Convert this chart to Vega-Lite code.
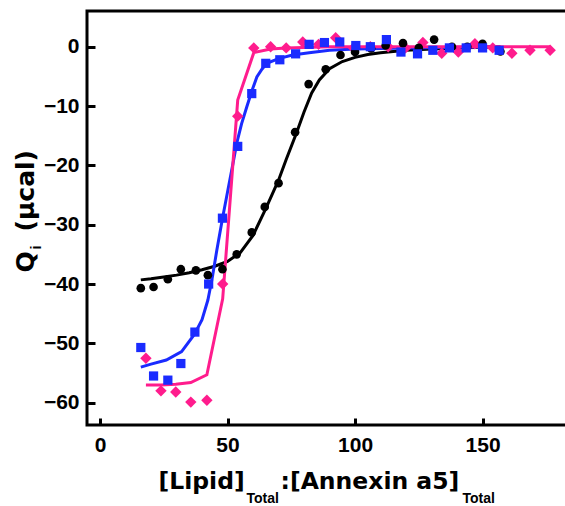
{
  "$schema": "https://vega.github.io/schema/vega-lite/v6.json",
  "width": 481,
  "height": 414,
  "autosize": {"type": "none"},
  "padding": {"left": 87, "top": 11, "right": 0, "bottom": 81},
  "background": "white",
  "config": {
    "view": {"stroke": "black", "strokeWidth": 3},
    "axis": {
      "grid": false,
      "domain": false,
      "labelFont": "Liberation Sans",
      "labelFontWeight": "bold",
      "labelFontSize": 21,
      "labelColor": "black",
      "tickColor": "black",
      "tickWidth": 3,
      "titleColor": "black",
      "titleFont": "DejaVu Sans",
      "titleFontWeight": "bold",
      "titleFontSize": 23.5,
      "titleAlign": "left",
      "titleBaseline": "alphabetic"
    }
  },
  "datasets": {
    "pts": [
      {"x": 16, "q": -40.7, "s": "black"}, {"x": 21, "q": -40.5, "s": "black"}, {"x": 26.6, "q": -39.2, "s": "black"},
      {"x": 31.7, "q": -37.5, "s": "black"}, {"x": 37.6, "q": -37.7, "s": "black"}, {"x": 42.3, "q": -38.5, "s": "black"},
      {"x": 48, "q": -37.5, "s": "black"}, {"x": 53.6, "q": -35, "s": "black"}, {"x": 59.5, "q": -31.3, "s": "black"},
      {"x": 64.6, "q": -27, "s": "black"}, {"x": 70, "q": -23, "s": "black"}, {"x": 76.5, "q": -14.4, "s": "black"},
      {"x": 81.8, "q": -6.3, "s": "black"}, {"x": 88.5, "q": -3.8, "s": "black"}, {"x": 94.3, "q": -1.4, "s": "black"},
      {"x": 100, "q": -0.9, "s": "black"}, {"x": 106.3, "q": -0.3, "s": "black"}, {"x": 112, "q": 0.2, "s": "black"},
      {"x": 118.8, "q": 0.6, "s": "black"}, {"x": 125, "q": -0.2, "s": "black"}, {"x": 131, "q": 1.2, "s": "black"},
      {"x": 138, "q": 0, "s": "black"}, {"x": 144, "q": 0, "s": "black"}, {"x": 150, "q": 0.5, "s": "black"},
      {"x": 157, "q": -0.8, "s": "black"},
      {"x": 16, "q": -50.7, "s": "blue"}, {"x": 21, "q": -55.5, "s": "blue"}, {"x": 26.6, "q": -56.2, "s": "blue"},
      {"x": 31.7, "q": -53.4, "s": "blue"}, {"x": 37.2, "q": -48.1, "s": "blue"}, {"x": 42.6, "q": -40, "s": "blue"},
      {"x": 48, "q": -28.9, "s": "blue"}, {"x": 54, "q": -16.8, "s": "blue"}, {"x": 59.5, "q": -7.9, "s": "blue"},
      {"x": 65, "q": -2.8, "s": "blue"}, {"x": 70.5, "q": -2.2, "s": "blue"}, {"x": 76.7, "q": -1.2, "s": "blue"},
      {"x": 82, "q": 0.4, "s": "blue"}, {"x": 88, "q": 0.7, "s": "blue"}, {"x": 94, "q": 0.8, "s": "blue"},
      {"x": 100.3, "q": 0.2, "s": "blue"}, {"x": 106, "q": 0, "s": "blue"}, {"x": 112.3, "q": 1.2, "s": "blue"},
      {"x": 118, "q": -0.9, "s": "blue"}, {"x": 124.5, "q": -1.2, "s": "blue"}, {"x": 130.5, "q": -0.6, "s": "blue"},
      {"x": 137, "q": -0.2, "s": "blue"}, {"x": 143.6, "q": -0.2, "s": "blue"}, {"x": 150, "q": -0.2, "s": "blue"},
      {"x": 156.5, "q": -0.6, "s": "blue"},
      {"x": 18, "q": -52.5, "s": "pink"}, {"x": 23.9, "q": -58, "s": "pink"}, {"x": 29.7, "q": -58.2, "s": "pink"},
      {"x": 35.6, "q": -59.9, "s": "pink"}, {"x": 41.9, "q": -59.6, "s": "pink"}, {"x": 48.1, "q": -40, "s": "pink"},
      {"x": 54, "q": -11.7, "s": "pink"}, {"x": 60.3, "q": -0.2, "s": "pink"}, {"x": 66.9, "q": 0, "s": "pink"},
      {"x": 73, "q": -0.2, "s": "pink"}, {"x": 79.5, "q": 0.8, "s": "pink"}, {"x": 85.7, "q": 0.4, "s": "pink"},
      {"x": 92.4, "q": 1.5, "s": "pink"}, {"x": 99.4, "q": -0.2, "s": "pink"}, {"x": 106, "q": 0, "s": "pink"},
      {"x": 113, "q": 0, "s": "pink"}, {"x": 119.8, "q": -0.2, "s": "pink"}, {"x": 126.6, "q": 0.7, "s": "pink"},
      {"x": 134, "q": -1.1, "s": "pink"}, {"x": 140.5, "q": -0.9, "s": "pink"}, {"x": 147, "q": 0.5, "s": "pink"},
      {"x": 154, "q": -0.2, "s": "pink"}, {"x": 161.5, "q": -1.1, "s": "pink"}, {"x": 168.6, "q": -0.6, "s": "pink"},
      {"x": 176.5, "q": -0.6, "s": "pink"}
    ],
    "fit": [
      {"x": 16, "q": -39.3, "s": "black"}, {"x": 20, "q": -39.1, "s": "black"}, {"x": 25, "q": -38.8, "s": "black"},
      {"x": 30, "q": -38.5, "s": "black"}, {"x": 35, "q": -38.1, "s": "black"}, {"x": 40, "q": -37.6, "s": "black"},
      {"x": 45, "q": -37.0, "s": "black"}, {"x": 50, "q": -36.2, "s": "black"}, {"x": 55, "q": -34.7, "s": "black"},
      {"x": 60, "q": -31.8, "s": "black"}, {"x": 65, "q": -27.3, "s": "black"}, {"x": 70, "q": -22.5, "s": "black"},
      {"x": 73, "q": -19, "s": "black"}, {"x": 77, "q": -14.6, "s": "black"}, {"x": 80, "q": -11, "s": "black"},
      {"x": 83, "q": -7.8, "s": "black"}, {"x": 86, "q": -5.6, "s": "black"}, {"x": 90, "q": -3.7, "s": "black"},
      {"x": 95, "q": -2.5, "s": "black"}, {"x": 100, "q": -1.8, "s": "black"}, {"x": 105, "q": -1.3, "s": "black"},
      {"x": 110, "q": -1.0, "s": "black"}, {"x": 120, "q": -0.6, "s": "black"}, {"x": 130, "q": -0.4, "s": "black"},
      {"x": 140, "q": -0.2, "s": "black"}, {"x": 157, "q": 0, "s": "black"},
      {"x": 16, "q": -54, "s": "blue"}, {"x": 20, "q": -53.5, "s": "blue"}, {"x": 26, "q": -52.8, "s": "blue"},
      {"x": 32, "q": -51.4, "s": "blue"}, {"x": 37, "q": -48.5, "s": "blue"}, {"x": 40, "q": -46, "s": "blue"},
      {"x": 42.3, "q": -42.7, "s": "blue"}, {"x": 44, "q": -39, "s": "blue"}, {"x": 45.8, "q": -34.3, "s": "blue"},
      {"x": 48, "q": -29, "s": "blue"}, {"x": 50, "q": -24.5, "s": "blue"}, {"x": 52, "q": -20, "s": "blue"},
      {"x": 53.6, "q": -16.3, "s": "blue"}, {"x": 55.5, "q": -13, "s": "blue"}, {"x": 57.5, "q": -10.2, "s": "blue"},
      {"x": 59.5, "q": -7.5, "s": "blue"}, {"x": 61.5, "q": -5.1, "s": "blue"}, {"x": 63.5, "q": -3.8, "s": "blue"},
      {"x": 65.4, "q": -2.8, "s": "blue"}, {"x": 70, "q": -2.0, "s": "blue"}, {"x": 75.5, "q": -1.4, "s": "blue"},
      {"x": 82, "q": -1.0, "s": "blue"}, {"x": 90, "q": -0.6, "s": "blue"}, {"x": 100, "q": -0.4, "s": "blue"},
      {"x": 120, "q": -0.2, "s": "blue"}, {"x": 157, "q": 0, "s": "blue"},
      {"x": 18, "q": -57, "s": "pink"}, {"x": 23.9, "q": -57, "s": "pink"}, {"x": 29.7, "q": -56.9, "s": "pink"},
      {"x": 35.6, "q": -56.6, "s": "pink"}, {"x": 41.9, "q": -55.3, "s": "pink"}, {"x": 48.1, "q": -42.5, "s": "pink"},
      {"x": 54, "q": -9, "s": "pink"}, {"x": 60.3, "q": -1.0, "s": "pink"}, {"x": 66.9, "q": -0.4, "s": "pink"},
      {"x": 73, "q": -0.2, "s": "pink"}, {"x": 90, "q": 0, "s": "pink"}, {"x": 176.5, "q": 0, "s": "pink"}
    ]
  },
  "resolve": {"axis": {"x": "independent", "y": "independent"}},
  "layer": [
    {
      "data": {"name": "fit"},
      "transform": [{"filter": "datum.s === 'black'"}],
      "mark": {"type": "line", "color": "black", "strokeWidth": 3},
      "encoding": {
        "x": {"field": "x", "type": "quantitative", "scale": {"domain": [-5.1, 183.5], "nice": false, "zero": false},
          "axis": {"orient": "bottom", "values": [0, 50, 100, 150], "offset": -7, "tickSize": 7, "labelPadding": 9, "title": "[Lipid]", "titleX": 71, "titleY": 70}},
        "y": {"field": "q", "type": "quantitative", "scale": {"domain": [-63.76, 6.02], "nice": false, "zero": false},
          "axis": {"orient": "left", "values": [-60, -50, -40, -30, -20, -10, 0], "offset": -8, "tickSize": 8, "labelPadding": 8, "title": "Q", "titleFontSize": 25, "titleAngle": -90, "titleX": -62, "titleY": 261}}
      }
    },
    {
      "data": {"name": "fit"},
      "transform": [{"filter": "datum.s === 'blue'"}],
      "mark": {"type": "line", "color": "#1a2bff", "strokeWidth": 3},
      "encoding": {
        "x": {"field": "x", "type": "quantitative", "scale": {"domain": [-5.1, 183.5], "nice": false, "zero": false},
          "axis": {"orient": "bottom", "labels": false, "ticks": false, "domain": false, "title": "Total", "titleFont": "Liberation Sans", "titleFontSize": 14, "titleX": 159, "titleY": 77}},
        "y": {"field": "q", "type": "quantitative", "scale": {"domain": [-63.76, 6.02], "nice": false, "zero": false},
          "axis": {"orient": "left", "labels": false, "ticks": false, "domain": false, "title": "i", "titleFont": "Liberation Sans", "titleFontSize": 15, "titleAngle": -90, "titleX": -47, "titleY": 238}}
      }
    },
    {
      "data": {"name": "fit"},
      "transform": [{"filter": "datum.s === 'pink'"}],
      "mark": {"type": "line", "color": "#ff1c8d", "strokeWidth": 3},
      "encoding": {
        "x": {"field": "x", "type": "quantitative", "scale": {"domain": [-5.1, 183.5], "nice": false, "zero": false},
          "axis": {"orient": "bottom", "labels": false, "ticks": false, "domain": false, "title": ":[Annexin a5]", "titleX": 193, "titleY": 63}},
        "y": {"field": "q", "type": "quantitative", "scale": {"domain": [-63.76, 6.02], "nice": false, "zero": false},
          "axis": {"orient": "left", "labels": false, "ticks": false, "domain": false, "title": "(μcal)", "titleFontSize": 25, "titleAngle": -90, "titleX": -54, "titleY": 220}}
      }
    },
    {
      "data": {"name": "pts"},
      "transform": [{"filter": "datum.s === 'pink'"}],
      "mark": {"type": "point", "shape": "diamond", "filled": true, "size": 130, "color": "#ff1c8d", "opacity": 1},
      "encoding": {
        "x": {"field": "x", "type": "quantitative", "scale": {"domain": [-5.1, 183.5], "nice": false, "zero": false},
          "axis": {"orient": "bottom", "labels": false, "ticks": false, "domain": false, "title": "Total", "titleFont": "Liberation Sans", "titleFontSize": 14, "titleX": 375, "titleY": 77}},
        "y": {"field": "q", "type": "quantitative", "scale": {"domain": [-63.76, 6.02], "nice": false, "zero": false}, "axis": null}
      }
    },
    {
      "data": {"name": "pts"},
      "transform": [{"filter": "datum.s === 'black'"}],
      "mark": {"type": "point", "shape": "circle", "filled": true, "size": 75, "color": "black", "opacity": 1},
      "encoding": {
        "x": {"field": "x", "type": "quantitative", "scale": {"domain": [-5.1, 183.5], "nice": false, "zero": false}, "axis": null},
        "y": {"field": "q", "type": "quantitative", "scale": {"domain": [-63.76, 6.02], "nice": false, "zero": false}, "axis": null}
      }
    },
    {
      "data": {"name": "pts"},
      "transform": [{"filter": "datum.s === 'blue'"}],
      "mark": {"type": "point", "shape": "square", "filled": true, "size": 85, "color": "#1a2bff", "opacity": 1},
      "encoding": {
        "x": {"field": "x", "type": "quantitative", "scale": {"domain": [-5.1, 183.5], "nice": false, "zero": false}, "axis": null},
        "y": {"field": "q", "type": "quantitative", "scale": {"domain": [-63.76, 6.02], "nice": false, "zero": false}, "axis": null}
      }
    }
  ]
}
